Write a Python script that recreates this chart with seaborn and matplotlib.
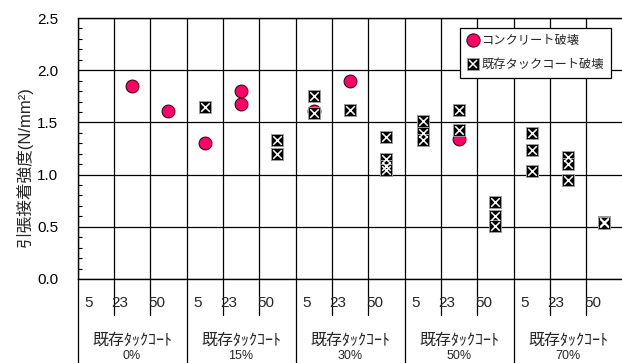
import numpy as np
import pandas as pd
import matplotlib
matplotlib.use('Agg')
import matplotlib.pyplot as plt
import matplotlib.transforms as mtransforms
from matplotlib.lines import Line2D
from matplotlib.ticker import MultipleLocator, FormatStrFormatter
import seaborn as sns

# ---------------- data ----------------
groups = ['0%', '15%', '30%', '50%', '70%']
ages = ['5', '23', '50']
group_title = '既存ﾀｯｸｺｰﾄ'
legend_labels = ['コンクリート破壊', '既存タックコート破壊']
ylabel = '引張接着強度(N/mm²)'

conc_group = ['0%', '0%', '15%', '15%', '15%', '30%', '30%', '50%']
conc_age = ['23', '50', '5', '23', '23', '5', '23', '23']
conc_value = [1.85, 1.61, 1.30, 1.80, 1.68, 1.61, 1.90, 1.34]

tack_group = ['15%', '15%', '15%',
              '30%', '30%', '30%', '30%', '30%', '30%', '30%',
              '50%', '50%', '50%', '50%', '50%', '50%', '50%', '50%',
              '70%', '70%', '70%', '70%', '70%', '70%', '70%', '70%']
tack_age = ['5', '50', '50',
            '5', '5', '23', '50', '50', '50', '50',
            '5', '5', '5', '23', '23', '50', '50', '50',
            '5', '5', '5', '23', '23', '23', '50', '50']
tack_value = [1.645, 1.33, 1.20,
              1.75, 1.59, 1.62, 1.36, 1.15, 1.08, 1.04,
              1.51, 1.40, 1.33, 1.62, 1.43, 0.74, 0.60, 0.51,
              1.40, 1.24, 1.03, 1.17, 1.10, 0.95, 0.55, 0.54]


def pos(g, a):
    return groups.index(g) * 3 + ages.index(a) + 0.5


dfc = pd.DataFrame({'group': conc_group, 'age': conc_age, 'v': conc_value})
dfc['x'] = [pos(g, a) for g, a in zip(dfc.group, dfc.age)]
dft = pd.DataFrame({'group': tack_group, 'age': tack_age, 'v': tack_value})
dft['x'] = [pos(g, a) for g, a in zip(dft.group, dft.age)]

# ---------------- style ----------------
sns.set_style('white')
plt.rcParams['font.family'] = ['Liberation Sans', 'Noto Sans CJK JP', 'DejaVu Sans']

W, H = 622, 363
fig = plt.figure(figsize=(W / 100, H / 100), dpi=100)
ax_left, ax_right, ax_top, ax_bot = 77.5, 622.5, 18, 279
ax = fig.add_axes([ax_left / W, 1 - ax_bot / H, (ax_right - ax_left) / W, (ax_bot - ax_top) / H])

pink = '#FF0066'
sns.scatterplot(data=dfc, x='x', y='v', marker='o', s=85, color=pink,
                edgecolor='#4a0014', linewidth=0.8, ax=ax, zorder=3)
sns.scatterplot(data=dft, x='x', y='v', marker='s', s=66, color='black',
                edgecolor='#9a9a9a', linewidth=0.7, ax=ax, zorder=4)
sns.scatterplot(data=dft, x='x', y='v', marker='x', s=38, color='white',
                linewidth=1.1, ax=ax, zorder=5)

ncol = len(groups) * len(ages)
ax.set_xlim(0, ncol)
ax.set_ylim(0, 2.5)
ax.set_xticks(np.arange(0, ncol + 1))
ax.set_xticklabels([])
ax.tick_params(axis='x', length=0)
ax.yaxis.set_major_locator(MultipleLocator(0.5))
ax.yaxis.set_minor_locator(MultipleLocator(0.1))
ax.yaxis.set_major_formatter(FormatStrFormatter('%.1f'))
ax.tick_params(axis='y', which='major', length=0, pad=14, labelsize=11, colors='black')
ax.tick_params(axis='y', which='minor', direction='in', length=3, width=0.8, color='black', left=True)
ax.grid(True, which='major', color='black', linewidth=0.9)
ax.set_axisbelow(True)
for s in ['left', 'top', 'bottom']:
    ax.spines[s].set_color('black')
    ax.spines[s].set_linewidth(1.0)
ax.spines['right'].set_visible(False)

ax.set_xlabel('')
ax.set_ylabel(ylabel, fontsize=12)
ah = ax_bot - ax_top
aw = ax_right - ax_left
ax.yaxis.set_label_coords((33 - ax_left) / aw, (ax_bot - 167) / ah)

# ---------------- category table under the axis ----------------
trans = mtransforms.blended_transform_factory(ax.transData, ax.transAxes)
short_y = -(315 - ax_bot) / ah
long_y = -(H + 5 - ax_bot) / ah
for i in range(ncol + 1):
    y_end = long_y if i % len(ages) == 0 else short_y
    ax.plot([i, i], [0, y_end], transform=trans, color='black', lw=0.9, clip_on=False)

sub_y = -(303 - ax_bot) / ah
grp_y = -(340 - ax_bot) / ah
pct_y = -(362 - ax_bot) / ah
for gi, g in enumerate(groups):
    for ai, a in enumerate(ages):
        ax.text(gi * 3 + ai + 0.41, sub_y, a, transform=trans, ha='right',
                va='center', fontsize=11, clip_on=False)
    ax.text(gi * 3 + 1.5, grp_y, group_title, transform=trans, ha='center',
            va='center', fontsize=11.5, clip_on=False)
    ax.text(gi * 3 + 1.5, pct_y, g, transform=trans, ha='center',
            va='bottom', fontsize=9, clip_on=False)

# ---------------- legend ----------------
h1 = Line2D([], [], ls='', marker='o', ms=9.5, mfc=pink, mec='#4a0014', mew=0.8)
h2a = Line2D([], [], ls='', marker='s', ms=8, mfc='black', mec='#9a9a9a', mew=0.7)
h2b = Line2D([], [], ls='', marker='x', ms=6, mec='white', mew=1.1)
leg = ax.legend([h1, (h2a, h2b)], legend_labels, loc='upper right',
                bbox_to_anchor=((611 - ax_left) / aw, (ax_bot - 28) / ah),
                borderaxespad=0, fontsize=8.8, handlelength=0.9, handletextpad=0.25,
                labelspacing=0.95, borderpad=0.6, fancybox=False, framealpha=1,
                edgecolor='black')
leg.get_frame().set_linewidth(0.9)
leg.set_zorder(10)

fig.savefig('out.png', dpi=100)
